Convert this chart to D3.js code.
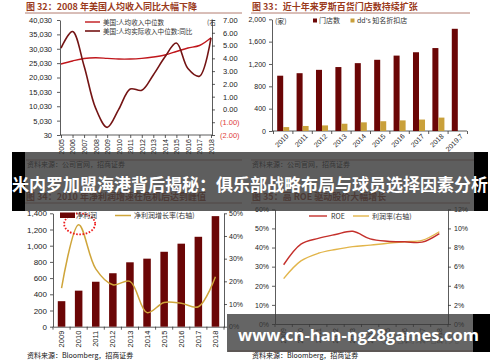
<!DOCTYPE html>
<html>
<head>
<meta charset="utf-8">
<script src="https://cdn.jsdelivr.net/npm/d3@7"></script>
<style>
  html, body { margin: 0; padding: 0; background: #fff; }
  svg { display: block; }
</style>
</head>
<body>
<svg id="chart" width="500" height="362"></svg>
<script>
// fig 32 - US median income
const incomeYears = ["2005", "2006", "2007", "2008", "2009", "2010", "2011", "2012", "2013", "2014", "2015", "2016", "2017", "2018"]
const incomeMedian = [24720, 25770, 26640, 26900, 26700, 26460, 26460, 26700, 27160, 27860, 29070, 30290, 31160, 33880]
const realIncomeGrowth = [4.8, 6.1, 3.4, 0.1, -1.4, 0.0, 1.6, 1.5, 2.7, 4.1, 5.2, 3.2, 2.6, 5.6]
const incomeTicks = [30, 5030, 10030, 15030, 20030, 25030, 30030, 35030, 40030]
const growthTicks = [-2, -1, 0, 1, 2, 3, 4, 5, 6, 7]

// fig 33 - Ross store count
const storeYears = ["2010", "2011", "2012", "2013", "2014", "2015", "2016", "2017", "2018", "2019.7"]
const rossStores = [990, 1035, 1095, 1145, 1215, 1275, 1350, 1410, 1485, 1830]
const ddsStores = [70, 90, 100, 130, 155, 175, 190, 205, 240, null]
const storeTicks = [0, 400, 800, 1200, 1600, 2000]

// fig 34 - net profit
const profitYears = ["2009", "2010", "2011", "2012", "2013", "2014", "2015", "2016", "2017", "2018"]
const netProfit = [315, 445, 555, 660, 795, 840, 925, 1025, 1110, 1365]
const profitGrowth = [17, 45, 25.5, 18.5, 20, 6.2, 10.7, 10.3, 8.8, 22]
const profitTicks = [0, 200, 400, 600, 800, 1000, 1200, 1400]
const profitGrowthTicks = [0, 10, 20, 30, 40, 50]

// fig 35 - ROE and margin
const roe = [31, 41.8, 44.8, 46.8, 48.5, 44.5, 43.3, 43, 42.8, 47.3]
const profitMargin = [4.75, 6.6, 7.4, 7.8, 8.1, 8.25, 8.45, 8.6, 8.75, 9.65]
const roeTicks = [0, 10, 20, 30, 40, 50, 60]
const marginTicks = [0, 2, 4, 6, 8, 10, 12]

const CJK = '"Noto Sans CJK SC", sans-serif'
const LATIN = '"Liberation Sans", Arial, sans-serif'
const TITLE_COLOR = "#9a3a1c"
const RULE_COLOR = "#a05a4c"
const MAROON = "#6b0606"
const GOLD = "#cfa53a"

const svg = d3.select("#chart")

function styleAxis(g, size) {
  g.select("path.domain").attr("stroke", "#333").attr("stroke-width", 0.8)
  g.selectAll(".tick line").attr("stroke", "#333").attr("stroke-width", 0.8)
  g.selectAll(".tick text")
    .attr("fill", "#222")
    .style("font-family", LATIN)
    .style("font-size", `${size}px`)
}

function panelTitle(x, y, text, x2) {
  svg.append("text")
    .attr("x", x).attr("y", y)
    .style("font-family", CJK).style("font-size", "9px").style("font-weight", 700)
    .attr("fill", TITLE_COLOR)
    .text(text)
  svg.append("line")
    .attr("x1", x - 1).attr("x2", x2).attr("y1", y + 3).attr("y2", y + 3)
    .attr("stroke", RULE_COLOR).attr("stroke-width", 0.8)
}

function sourceNote(x, y, text, ruleX2) {
  if (ruleX2) {
    svg.append("line")
      .attr("x1", x - 1).attr("x2", ruleX2).attr("y1", y - 7).attr("y2", y - 7)
      .attr("stroke", RULE_COLOR).attr("stroke-width", 0.8)
  }
  svg.append("text")
    .attr("x", x).attr("y", y)
    .style("font-family", CJK).style("font-size", "7px")
    .attr("fill", "#111")
    .text(text)
}

function legendText(x, y, text, size = 7) {
  svg.append("text")
    .attr("x", x).attr("y", y)
    .style("font-family", CJK).style("font-size", `${size}px`)
    .attr("fill", "#333")
    .text(text)
}

// vertical year labels under a band/point axis
function rotateLabels(g, angle, offset) {
  g.selectAll(".tick text")
    .attr("transform", `rotate(${angle})`)
    .attr("text-anchor", "end")
    .attr("x", -offset).attr("y", 0)
    .attr("dy", "0.35em")
}

// ticks on the category boundaries, as in the original charts
function boundaryTicks(x, y0) {
  const edges = x.domain().map(d => x(d)).concat([x(x.domain()[x.domain().length - 1]) + x.step()])
  svg.append("g").selectAll("line")
    .data(edges)
    .join("line")
    .attr("x1", d => d).attr("x2", d => d)
    .attr("y1", y0).attr("y2", y0 + 3)
    .attr("stroke", "#333").attr("stroke-width", 0.8)
}

const smooth = d3.curveCatmullRom.alpha(0.5)

// ---------- fig 32 ----------
panelTitle(26, 10, "图 32：2008 年美国人均收入同比大幅下降", 242)
{
  const x = d3.scalePoint().domain(incomeYears).range([61, 211])
  const yL = d3.scaleLinear().domain([30, 40030]).range([135, 20])
  const yR = d3.scaleLinear().domain([-2, 7]).range([135, 20])

  const gl = svg.append("g").attr("transform", "translate(60,0)")
    .call(d3.axisLeft(yL).tickValues(incomeTicks).tickSize(3).tickSizeOuter(0).tickPadding(5)
      .tickFormat(d3.format(",")))
  styleAxis(gl, 7.5)

  const gr = svg.append("g").attr("transform", "translate(212,0)")
    .call(d3.axisRight(yR).tickValues(growthTicks).tickSize(3).tickSizeOuter(0).tickPadding(8)
      .tickFormat(d => d < 0 ? `(${Math.abs(d).toFixed(2)})` : d.toFixed(2)))
  styleAxis(gr, 7.5)
  gr.selectAll(".tick text")
    .attr("fill", d => d < 0 ? "#e0403a" : "#222")
    .attr("dx", d => d < 0 ? -3 : 0)

  const gb = svg.append("g").attr("transform", "translate(0,135)")
    .call(d3.axisBottom(x).tickSize(3).tickSizeOuter(0))
  styleAxis(gb, 7)
  gb.select("path.domain").attr("d", "M60,0H212")
  rotateLabels(gb, -90, 4)

  svg.append("path")
    .datum(incomeMedian)
    .attr("fill", "none").attr("stroke", "#c0161b").attr("stroke-width", 1.4)
    .attr("d", d3.line().x((d, i) => x(incomeYears[i])).y(d => yL(d)).curve(smooth))

  svg.append("path")
    .datum(realIncomeGrowth)
    .attr("fill", "none").attr("stroke", "#741414").attr("stroke-width", 1.6)
    .attr("d", d3.line().x((d, i) => x(incomeYears[i])).y(d => yR(d)).curve(smooth))

  svg.append("line").attr("x1", 85).attr("x2", 100).attr("y1", 22).attr("y2", 22)
    .attr("stroke", "#c0161b").attr("stroke-width", 1.4)
  legendText(103, 24.5, "美国:人均收入中位数", 6.6)
  svg.append("line").attr("x1", 85).attr("x2", 100).attr("y1", 31).attr("y2", 31)
    .attr("stroke", "#741414").attr("stroke-width", 1.6)
  legendText(103, 33.5, "美国:人均实际收入中位数:同比", 6.6)
  legendText(207, 24.5, "(右", 6.6)
}
sourceNote(27, 167, "资料来源：公司官网，招商证券", 242)

// ---------- fig 33 ----------
panelTitle(252, 10, "图 33：近十年来罗斯百货门店数持续扩张", 470)
{
  const x = d3.scaleBand().domain(storeYears).range([273.5, 467.5])
  const y = d3.scaleLinear().domain([0, 2000]).range([131, 19.3])
  const bw = x.bandwidth() * 0.31

  const gl = svg.append("g").attr("transform", "translate(272,0)")
    .call(d3.axisLeft(y).tickValues(storeTicks).tickSize(3).tickSizeOuter(0).tickPadding(3))
  styleAxis(gl, 7)

  const gb = svg.append("g").attr("transform", "translate(0,131)")
    .call(d3.axisBottom(x).tickSize(0).tickSizeOuter(0))
  styleAxis(gb, 7)
  gb.select("path.domain").attr("d", "M272,0H467")
  gb.selectAll(".tick text")
    .attr("transform", "translate(4,4) rotate(-45)")
    .attr("text-anchor", "end")
    .attr("x", 0).attr("y", 0).attr("dy", "0.35em")
  boundaryTicks(x, 131)

  svg.append("g").selectAll("rect")
    .data(rossStores)
    .join("rect")
    .attr("x", (d, i) => x(storeYears[i]) + x.bandwidth() / 2 - bw)
    .attr("y", d => y(d))
    .attr("width", bw)
    .attr("height", d => y(0) - y(d))
    .attr("fill", MAROON)

  svg.append("g").selectAll("rect")
    .data(ddsStores.map((v, i) => ({ v, k: storeYears[i] })).filter(d => d.v != null))
    .join("rect")
    .attr("x", d => x(d.k) + x.bandwidth() / 2)
    .attr("y", d => y(d.v))
    .attr("width", bw)
    .attr("height", d => y(0) - y(d.v))
    .attr("fill", "#c9a03a")

  legendText(275, 23.5, "(家)")
  svg.append("rect").attr("x", 313).attr("y", 18.5).attr("width", 4).attr("height", 4).attr("fill", MAROON)
  legendText(319, 23, "门店数")
  svg.append("rect").attr("x", 350.5).attr("y", 18.5).attr("width", 4).attr("height", 4).attr("fill", "#c9a03a")
  legendText(357, 23, "dd's 知名折扣店")
}
sourceNote(252, 167, "资料来源：公司官网，招商证券", 482)

// ---------- fig 34 ----------
panelTitle(26, 200, "图 34：2010 年净利润增速在危机后达到峰值", 242)
{
  const x = d3.scaleBand().domain(profitYears).range([53, 224])
  const yL = d3.scaleLinear().domain([0, 1400]).range([326.7, 213.3])
  const yR = d3.scaleLinear().domain([0, 50]).range([326.7, 213.3])
  const bw = x.bandwidth() * 0.44
  const cx = d => x(d) + x.bandwidth() / 2

  const gl = svg.append("g").attr("transform", "translate(53,0)")
    .call(d3.axisLeft(yL).tickValues(profitTicks).tickSize(3).tickSizeOuter(0).tickPadding(3))
  styleAxis(gl, 8)

  const gr = svg.append("g").attr("transform", "translate(224,0)")
    .call(d3.axisRight(yR).tickValues(profitGrowthTicks).tickSize(3).tickSizeOuter(0).tickPadding(2)
      .tickFormat(d => `${d}%`))
  styleAxis(gr, 7)

  const gb = svg.append("g").attr("transform", "translate(0,326.7)")
    .call(d3.axisBottom(x).tickSize(0).tickSizeOuter(0))
  styleAxis(gb, 7.5)
  rotateLabels(gb, -90, 4)
  boundaryTicks(x, 326.7)

  svg.append("g").selectAll("rect")
    .data(netProfit)
    .join("rect")
    .attr("x", (d, i) => cx(profitYears[i]) - bw / 2)
    .attr("y", d => yL(d))
    .attr("width", bw)
    .attr("height", d => yL(0) - yL(d))
    .attr("fill", MAROON)

  svg.append("path")
    .datum(profitGrowth)
    .attr("fill", "none").attr("stroke", GOLD).attr("stroke-width", 1.5)
    .attr("d", d3.line().x((d, i) => cx(profitYears[i])).y(d => yR(d)).curve(smooth))

  // highlight of the 2010 peak
  svg.append("ellipse")
    .attr("cx", cx("2010") + 1).attr("cy", yR(44) - 3).attr("rx", 15.5).attr("ry", 10.5)
    .attr("fill", "none").attr("stroke", "#ee1c1c").attr("stroke-width", 1.8)
    .attr("stroke-dasharray", "1.6,1.6")

  svg.append("rect").attr("x", 60).attr("y", 212.5).attr("width", 15).attr("height", 5.5).attr("fill", MAROON)
  legendText(76, 217.5, "净利润")
  svg.append("line").attr("x1", 115).attr("x2", 131).attr("y1", 215.5).attr("y2", 215.5)
    .attr("stroke", GOLD).attr("stroke-width", 1.5)
  legendText(134, 217.5, "净利润增长率(右轴)")
}
sourceNote(27, 358, "资料来源：Bloomberg，招商证券")

// ---------- fig 35 ----------
panelTitle(252, 200, "图 35：高 ROE 驱动股价大幅增长", 470)
{
  const x = d3.scaleBand().domain(profitYears).range([275, 448])
  const yL = d3.scaleLinear().domain([0, 60]).range([324, 209.3])
  const yR = d3.scaleLinear().domain([0, 12]).range([324, 209.3])
  const cx = d => x(d) + x.bandwidth() / 2

  const gl = svg.append("g").attr("transform", "translate(275,0)")
    .call(d3.axisLeft(yL).tickValues(roeTicks).tickSize(3).tickSizeOuter(0).tickPadding(3)
      .tickFormat(d => `${d}%`))
  styleAxis(gl, 7)

  const gr = svg.append("g").attr("transform", "translate(448,0)")
    .call(d3.axisRight(yR).tickValues(marginTicks).tickSize(3).tickSizeOuter(0).tickPadding(3)
      .tickFormat(d => `${d}%`))
  styleAxis(gr, 7)

  const gb = svg.append("g").attr("transform", "translate(0,324)")
    .call(d3.axisBottom(x).tickSize(0).tickSizeOuter(0))
  styleAxis(gb, 7)
  rotateLabels(gb, -90, 4)
  boundaryTicks(x, 324)

  svg.append("path")
    .datum(profitMargin)
    .attr("fill", "none").attr("stroke", "#e2b54a").attr("stroke-width", 1.4)
    .attr("d", d3.line().x((d, i) => cx(profitYears[i])).y(d => yR(d)).curve(smooth))

  svg.append("path")
    .datum(roe)
    .attr("fill", "none").attr("stroke", "#c4302b").attr("stroke-width", 1.4)
    .attr("d", d3.line().x((d, i) => cx(profitYears[i])).y(d => yL(d)).curve(smooth))

  svg.append("line").attr("x1", 309).attr("x2", 327).attr("y1", 216).attr("y2", 216)
    .attr("stroke", "#c4302b").attr("stroke-width", 1.4)
  legendText(331, 218.5, "ROE")
  svg.append("line").attr("x1", 353).attr("x2", 369).attr("y1", 216).attr("y2", 216)
    .attr("stroke", "#e2b54a").attr("stroke-width", 1.4)
  legendText(372, 218.5, "利润率(右轴)")

  // faint publisher mark
  svg.append("circle").attr("cx", 386).attr("cy", 339).attr("r", 5)
    .attr("fill", "none").attr("stroke", "#bbb").attr("stroke-width", 1)
  svg.append("text").attr("x", 393).attr("y", 343)
    .style("font-family", CJK).style("font-size", "11px")
    .attr("fill", "#bbb").text("招商策略研究")
}
svg.append("line").attr("x1", 228).attr("x2", 490).attr("y1", 351).attr("y2", 351)
  .attr("stroke", RULE_COLOR).attr("stroke-width", 0.8)
sourceNote(252, 358, "资料来源：Bloomberg，招商证券")

// ---------- overlays ----------
svg.append("rect").attr("x", 12).attr("y", 152).attr("width", 13).attr("height", 59).attr("fill", "#000")
svg.append("rect").attr("x", 474).attr("y", 152).attr("width", 14).attr("height", 59).attr("fill", "#000")
svg.append("rect").attr("x", 25).attr("y", 152).attr("width", 449).attr("height", 59)
  .attr("fill", "#3a3a3a").attr("fill-opacity", 0.82)
svg.append("text")
  .attr("x", 250).attr("y", 191)
  .attr("text-anchor", "middle")
  .attr("textLength", 476).attr("lengthAdjust", "spacingAndGlyphs")
  .style("font-family", CJK).style("font-size", "17px").style("font-weight", 700)
  .attr("fill", "#fff")
  .text("米内罗加盟海港背后揭秘：俱乐部战略布局与球员选择因素分析")

svg.append("rect").attr("x", 473).attr("y", 314).attr("width", 17).attr("height", 38).attr("fill", "#000")
svg.append("rect").attr("x", 227).attr("y", 314).attr("width", 246).attr("height", 38)
  .attr("fill", "#3a3a3a").attr("fill-opacity", 0.78)
svg.append("text")
  .attr("x", 238).attr("y", 341)
  .attr("textLength", 241).attr("lengthAdjust", "spacingAndGlyphs")
  .style("font-family", '"Open Sans", "Noto Sans", sans-serif').style("font-size", "16px").style("font-weight", 700)
  .attr("fill", "#fff")
  .text("www.cn-han-ng28games.com")
</script>
</body>
</html>
